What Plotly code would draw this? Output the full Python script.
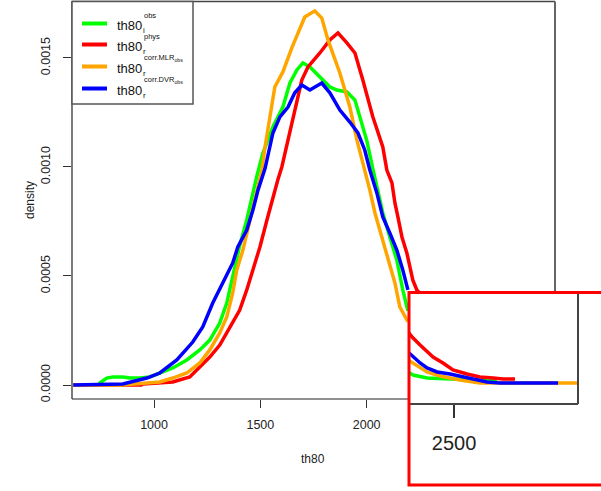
import plotly.graph_objects as go

# ---------------- data ----------------
obs_x = [620, 740, 745, 777, 806, 853, 886, 933, 980, 1027, 1088, 1154, 1215, 1262, 1309, 1342,
         1367, 1403, 1436, 1465, 1484, 1512, 1559, 1606, 1639, 1672, 1700, 1733, 1780, 1827, 1860,
         1907, 1945, 1968, 2001, 2029, 2053, 2076, 2109, 2142, 2170, 2194]
obs_y = [0, 0, 0.000009, 0.000032, 0.000037, 0.000037, 0.000032, 0.000032, 0.000037, 0.000055,
         0.000078, 0.000115, 0.000161, 0.000206, 0.000284, 0.000376, 0.00049, 0.00064, 0.000757,
         0.000881, 0.00096, 0.001064, 0.001183, 0.001275, 0.001385, 0.001445, 0.001477, 0.001459,
         0.001413, 0.001367, 0.001353, 0.001344, 0.001307, 0.00123, 0.00112, 0.000993, 0.000881,
         0.000789, 0.000679, 0.000573, 0.000436, 0.00034]

phys_x = [620, 940, 947, 1027, 1088, 1168, 1215, 1262, 1309, 1356, 1403, 1436, 1465, 1498, 1531,
          1559, 1582, 1601, 1639, 1672, 1695, 1724, 1780, 1827, 1865, 1907, 1945, 1982, 2029, 2076,
          2095, 2119, 2133, 2147, 2166, 2189, 2203, 2217, 2236, 2250]
phys_y = [0, 0, 0.000005, 0.000009, 0.000014, 0.000037, 0.000083, 0.000128, 0.000183, 0.000266,
          0.000344, 0.000436, 0.00053, 0.000633, 0.000757, 0.000862, 0.00094, 0.001, 0.001156,
          0.001294, 0.001399, 0.001459, 0.001523, 0.001583, 0.001615, 0.001569, 0.001523, 0.001399,
          0.00123, 0.001092, 0.000986, 0.000927, 0.000835, 0.000771, 0.000679, 0.000606, 0.000541,
          0.000482, 0.000436, 0.000422]

mlr_x = [620, 850, 966, 1027, 1088, 1154, 1215, 1262, 1309, 1342, 1370, 1389, 1418, 1441, 1465,
         1484, 1507, 1522, 1568, 1606, 1648, 1709, 1756, 1789, 1818, 1874, 1921, 1954, 1991, 2015,
         2039, 2072, 2100, 2133, 2156, 2194]
mlr_y = [0, 0, 0.000009, 0.000014, 0.000032, 0.000055, 0.000101, 0.000161, 0.000239, 0.000312,
         0.000422, 0.000528, 0.000619, 0.000711, 0.000803, 0.000894, 0.000986, 0.001092, 0.001367,
         0.001436, 0.001546, 0.001688, 0.001716, 0.001683, 0.001583, 0.001431, 0.001275, 0.001124,
         0.000986, 0.000894, 0.000789, 0.000679, 0.000573, 0.000468, 0.000358, 0.00029]

dvr_x = [620, 853, 966, 1027, 1107, 1182, 1229, 1276, 1323, 1370, 1394, 1436, 1465, 1489, 1522,
         1559, 1592, 1630, 1662, 1695, 1733, 1789, 1827, 1874, 1921, 1959, 1991, 2015, 2048, 2076,
         2109, 2142, 2170, 2194]
dvr_y = [0, 0.000005, 0.000032, 0.000055, 0.000115, 0.000197, 0.000266, 0.000376, 0.000468,
         0.00056, 0.000633, 0.000711, 0.000803, 0.000894, 0.000993, 0.001156, 0.00123, 0.001275,
         0.00134, 0.001376, 0.001353, 0.001385, 0.00134, 0.001261, 0.001206, 0.001156, 0.001078,
         0.000986, 0.000881, 0.000771, 0.000697, 0.000619, 0.000528, 0.000436]

# inset (zoomed tail)
in_obs_x = [2283, 2307, 2373, 2481, 2561, 2702]
in_obs_y = [0.0000505, 0.0000367, 0.0000229, 0.0000183, 0.0000138, 0.0000092]
in_phys_x = [2283, 2307, 2340, 2373, 2401, 2448, 2495, 2561, 2622, 2684, 2731, 2787]
in_phys_y = [0.000234, 0.000206, 0.000174, 0.000142, 0.000119, 0.0000917, 0.0000596, 0.0000413,
             0.0000275, 0.0000229, 0.0000183, 0.0000183]
in_mlr_x = [2283, 2307, 2340, 2373, 2434, 2528, 2622, 3084]
in_mlr_y = [0.0001055, 0.0000917, 0.0000688, 0.0000505, 0.0000321, 0.0000138, 0, 0]
in_dvr_x = [2283, 2307, 2340, 2373, 2420, 2481, 2561, 2655, 2717, 2990]
in_dvr_y = [0.000142, 0.000119, 0.0000917, 0.0000688, 0.0000505, 0.0000413, 0.0000229, 0.0000046, 0, 0]

x_ticks = [1000, 1500, 2000]
y_ticks = [0, 0.0005, 0.0010, 0.0015]
y_ticktext = ["0.0000", "0.0005", "0.0010", "0.0015"]
inset_ticks = [2500]

names = ["obs", "phys", "corr.MLR", "corr.DVR"]
colors = ["#00FF00", "#FF0000", "#FFA500", "#0000FF"]
subs = ["i", "r", "r", "r"]

W, H = 601, 491
def px(x): return x / W
def py(y): return 1 - y / H

FONT = "Liberation Sans, Arial, sans-serif"

fig = go.Figure()
main = [(obs_x, obs_y), (phys_x, phys_y), (mlr_x, mlr_y), (dvr_x, dvr_y)]
ins = [(in_obs_x, in_obs_y), (in_phys_x, in_phys_y), (in_mlr_x, in_mlr_y), (in_dvr_x, in_dvr_y)]
for (xs, ys), c, n in zip(main, colors, names):
    fig.add_trace(go.Scatter(x=xs, y=ys, mode="lines", line=dict(color=c, width=3.5),
                             name=n, showlegend=False, xaxis="x", yaxis="y"))
for (xs, ys), c, n in zip(ins, colors, names):
    fig.add_trace(go.Scatter(x=xs, y=ys, mode="lines", line=dict(color=c, width=3.5),
                             name=n, showlegend=False, xaxis="x2", yaxis="y2"))

shapes = []
LC = "#444"
# main frame (partly hidden by inset)
shapes.append(dict(type="line", xref="paper", yref="paper", x0=px(72), x1=px(555), y0=py(1.5), y1=py(1.5), line=dict(color=LC, width=1.5)))
shapes.append(dict(type="line", xref="paper", yref="paper", x0=px(72), x1=px(72), y0=py(1.5), y1=py(399), line=dict(color="#222", width=1.2)))
shapes.append(dict(type="line", xref="paper", yref="paper", x0=px(72), x1=px(408), y0=py(399), y1=py(399), line=dict(color="#222", width=1.2)))
shapes.append(dict(type="line", xref="paper", yref="paper", x0=px(555), x1=px(555), y0=py(1.5), y1=py(292), line=dict(color="#666", width=2)))
# inset frame
shapes.append(dict(type="rect", xref="paper", yref="paper", x0=px(408), x1=px(603), y0=py(292), y1=py(486), line=dict(width=0), fillcolor="white", layer="below"))
shapes.append(dict(type="line", xref="paper", yref="paper", x0=px(578), x1=px(578), y0=py(292), y1=py(404), line=dict(color=LC, width=2)))
shapes.append(dict(type="line", xref="paper", yref="paper", x0=px(408), x1=px(578), y0=py(404), y1=py(404), line=dict(color=LC, width=2)))
shapes.append(dict(type="rect", xref="paper", yref="paper", x0=px(409), x1=px(604), y0=py(292.5), y1=py(485), line=dict(color="#FF0000", width=3), fillcolor="rgba(0,0,0,0)"))
# legend box
shapes.append(dict(type="rect", xref="paper", yref="paper", x0=px(72), x1=px(193), y0=py(1.5), y1=py(104), line=dict(color="#555", width=1.5), fillcolor="white"))

annotations = []
rows = [23.5, 44.5, 66.5, 88.5]
for r, c, n, s in zip(rows, colors, names, subs):
    shapes.append(dict(type="line", xref="paper", yref="paper", x0=px(82), x1=px(107), y0=py(r), y1=py(r), line=dict(color=c, width=4)))
    annotations.append(dict(xref="paper", yref="paper", x=px(116), y=py(r + 2), text="th80", showarrow=False,
                            xanchor="left", yanchor="middle", borderpad=0, font=dict(family=FONT, size=13, color="#111")))
    annotations.append(dict(xref="paper", yref="paper", x=px(142), y=py(r + 7), text=s, showarrow=False,
                            xanchor="left", yanchor="middle", borderpad=0, font=dict(family=FONT, size=8, color="#111")))
    sup = n if n in ("obs", "phys") else n + "<sub>obs</sub>"
    annotations.append(dict(xref="paper", yref="paper", x=px(142.5), y=py(r - 8.5), text=sup, showarrow=False,
                            xanchor="left", yanchor="middle", borderpad=0, font=dict(family=FONT, size=7.5, color="#111")))

annotations.append(dict(xref="paper", yref="paper", x=px(313), y=py(459), text="th80", showarrow=False,
                        xanchor="center", yanchor="middle", font=dict(family=FONT, size=12, color="#222")))
annotations.append(dict(xref="paper", yref="paper", x=px(30), y=py(200), text="density", showarrow=False, textangle=-90,
                        xanchor="center", yanchor="middle", font=dict(family=FONT, size=12, color="#222")))

fig.update_layout(
    width=W, height=H,
    margin=dict(l=0, r=0, t=0, b=0),
    paper_bgcolor="white", plot_bgcolor="rgba(0,0,0,0)",
    showlegend=False,
    font=dict(family=FONT, size=12, color="#222"),
    xaxis=dict(domain=[px(72), px(555)], range=[614, 2886], showgrid=False, zeroline=False, showline=False,
               tickvals=x_ticks, ticktext=[str(v) for v in x_ticks], ticks="outside", ticklen=8, tickwidth=1,
               tickcolor="#333", tickfont=dict(size=12.5, color="#222"), anchor="y", automargin=False,
               ticklabelstandoff=6),
    yaxis=dict(domain=[py(399), py(1.5)], range=[-0.0000642, 0.001759], showgrid=False, zeroline=False, showline=False,
               tickvals=y_ticks, ticktext=y_ticktext, ticks="outside", ticklen=8,
               tickwidth=1, tickcolor="#333", tickangle=-90, tickfont=dict(size=12.5, color="#222"), anchor="x",
               automargin=False, ticklabelstandoff=8),
    xaxis2=dict(domain=[px(408), px(578)], range=[2283, 3084], showgrid=False, zeroline=False, showline=False,
                tickvals=inset_ticks, ticktext=["2500"], ticks="outside", ticklen=13, tickwidth=1.5, tickcolor="#333",
                tickfont=dict(size=20, color="#222"), anchor="y2", automargin=False, ticklabelstandoff=8),
    yaxis2=dict(domain=[py(404), py(292)], range=[-0.0000963, 0.000417], showgrid=False, zeroline=False,
                showline=False, showticklabels=False, ticks="", anchor="x2", automargin=False),
    shapes=shapes, annotations=annotations,
)

fig.write_html("out.html")
